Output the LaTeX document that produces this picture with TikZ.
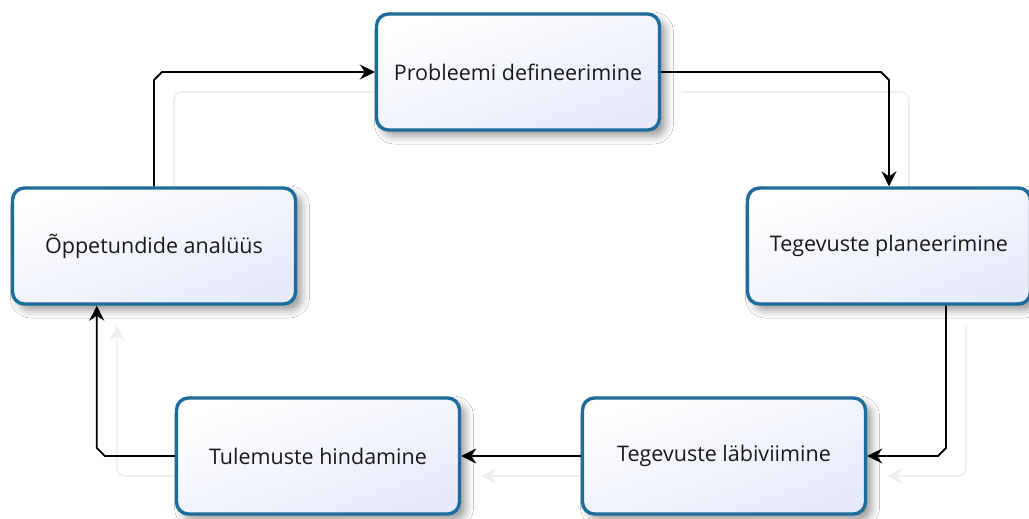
\documentclass[tikz,border=0pt]{standalone}
\usepackage{fontspec}
\setmainfont{Open Sans}
\usetikzlibrary{arrows.meta,calc,shadows.blur}
\definecolor{boxline}{RGB}{28,108,156}
\definecolor{boxfill}{RGB}{230,234,250}
\definecolor{ghost}{RGB}{238,238,238}
\pgfdeclarelayer{paper}
\pgfdeclarelayer{under}
\pgfsetlayers{paper,under,main}

\begin{document}
\begin{tikzpicture}[x=1pt,y=-1pt,
  stage/.style={draw=boxline, line width=3.4pt, rounded corners=12pt,
    minimum width=283pt, minimum height=116pt,
    top color=white, bottom color=boxfill, shading angle=20,
    font=\fontsize{21.5}{24}\selectfont, text=black!90,
    blur shadow={shadow xshift=6pt, shadow yshift=-6pt,
      shadow blur radius=8pt, shadow opacity=40}},
  tip/.style={-{Stealth[length=15pt,width=15pt,inset=5pt]}},
  flow/.style={line width=1.8pt, tip},
  ghostflow/.style={line width=1.6pt, draw=ghost, rounded corners=8pt, tip}]

\useasboundingbox (0,0) rectangle (1029,519);

% the five stages of the cycle
\node[stage] (pd) at (518,72)  {Probleemi defineerimine};
\node[stage] (pl) at (889,246) {Tegevuste planeerimine};
\node[stage] (lb) at (724,456) {Tegevuste läbiviimine};
\node[stage] (hi) at (318,456) {Tulemuste hindamine};
\node[stage] (an) at (154,246) {Õppetundide analüüs};

% corner points of the connectors
\coordinate (c1) at (an.north |- pd.west);
\coordinate (c2) at (pl.north |- pd.east);
\coordinate (s3) at ($(pl.south)+(57,0)$);
\coordinate (c3) at (s3 |- lb.east);
\coordinate (c5) at ($(hi.west)+(-78,0)$);
\coordinate (e5) at (c5 |- an.south);

% connectors with small chamfered bends
\draw[flow] (an.north) -- ($(c1)+(0,8)$) -- ($(c1)+(8,0)$) -- (pd.west);
\draw[flow] (pd.east) -- ($(c2)+(-8,0)$) -- ($(c2)+(0,8)$) -- (pl.north);
\draw[flow] (s3) -- ($(c3)+(0,-8)$) -- ($(c3)+(-8,0)$) -- (lb.east);
\draw[flow] (lb.west) -- (hi.east);
\draw[flow] (hi.west) -- ($(c5)+(8,0)$) -- ($(c5)+(0,-8)$) -- (e5);

% faint offset echo of the connectors, behind the stages
\begin{pgfonlayer}{paper}
  \fill[white] (0,0) rectangle (1029,519);
\end{pgfonlayer}
\begin{pgfonlayer}{under}
  \draw[ghostflow] ($(an.north)+(20,20)$) -- ($(c1)+(20,20)$) -- ($(pd.west)+(20,20)$);
  \draw[ghostflow] ($(pd.east)+(20,20)$) -- ($(c2)+(20,20)$) -- ($(pl.north)+(20,20)$);
  \draw[ghostflow] ($(s3)+(20,20)$) -- ($(c3)+(20,20)$) -- ($(lb.east)+(20,20)$);
  \draw[ghostflow] ($(lb.west)+(20,20)$) -- ($(hi.east)+(20,20)$);
  \draw[ghostflow] ($(hi.west)+(20,20)$) -- ($(c5)+(20,20)$) -- ($(e5)+(20,20)$);
\end{pgfonlayer}
\end{tikzpicture}
\end{document}
